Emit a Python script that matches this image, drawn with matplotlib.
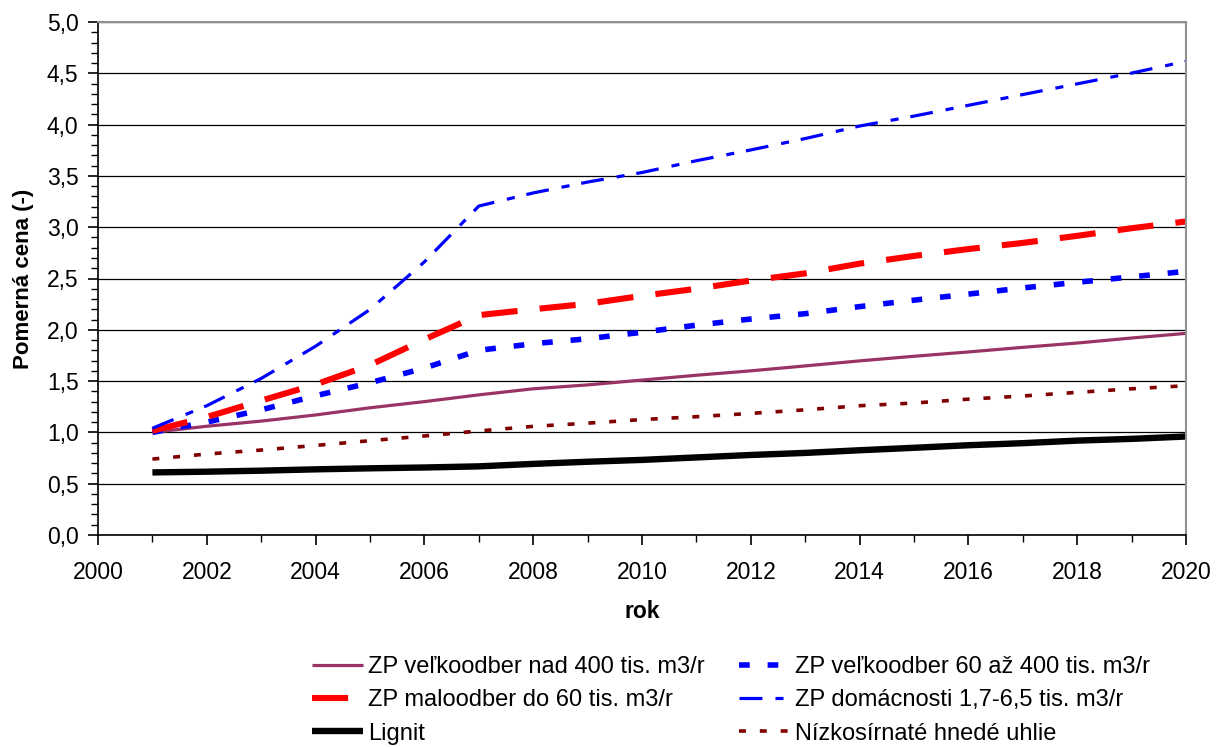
import matplotlib
matplotlib.use("Agg")
import matplotlib.pyplot as plt
from matplotlib.ticker import MultipleLocator, FuncFormatter

plt.rcParams['font.family'] = ['Liberation Sans', 'DejaVu Sans']
plt.rcParams['lines.scale_dashes'] = False

years = list(range(2001, 2021))
zp_velko_400 = [1.00, 1.06, 1.11, 1.17, 1.24, 1.30, 1.366, 1.425, 1.463, 1.51, 1.557, 1.60,
                1.648, 1.697, 1.742, 1.784, 1.829, 1.871, 1.92, 1.965]
zp_velko_60_400 = [1.00, 1.10, 1.22, 1.357, 1.484, 1.627, 1.80, 1.864, 1.913, 1.976, 2.045, 2.105,
                   2.157, 2.226, 2.289, 2.348, 2.408, 2.463, 2.516, 2.57]
zp_malo = [1.016, 1.15, 1.31, 1.467, 1.656, 1.906, 2.143, 2.20, 2.254, 2.331, 2.40, 2.48,
           2.55, 2.645, 2.72, 2.787, 2.847, 2.916, 2.99, 3.056]
zp_domacnosti = [1.04, 1.26, 1.526, 1.84, 2.198, 2.662, 3.206, 3.334, 3.44, 3.533, 3.648, 3.753,
                 3.864, 3.986, 4.083, 4.188, 4.293, 4.397, 4.502, 4.617]
lignit = [0.61, 0.617, 0.627, 0.64, 0.65, 0.658, 0.669, 0.693, 0.714, 0.732, 0.756, 0.78,
          0.80, 0.826, 0.85, 0.875, 0.895, 0.92, 0.937, 0.96]
nizkosirnate = [0.74, 0.789, 0.828, 0.873, 0.919, 0.965, 1.014, 1.059, 1.09, 1.125, 1.153, 1.185,
                1.22, 1.26, 1.286, 1.324, 1.355, 1.39, 1.425, 1.455]

labels = ["ZP veľkoodber nad 400 tis. m3/r", "ZP veľkoodber 60 až 400 tis. m3/r",
          "ZP maloodber do 60 tis. m3/r", "ZP domácnosti 1,7-6,5 tis. m3/r",
          "Lignit", "Nízkosírnaté hnedé uhlie"]

fig = plt.figure(figsize=(12.21, 7.47), dpi=100)
ax = fig.add_axes([98/1221, 1-535/747, (1186-98)/1221, (535-22)/747])

h1, = ax.plot(years, zp_velko_400, color='#993366', lw=2.3, solid_capstyle='butt')
h2, = ax.plot(years, zp_velko_60_400, color='#0000FF', lw=4.0, dashes=(7.7, 12.9), dash_capstyle='butt')
h3, = ax.plot(years, zp_malo, color='#FF0000', lw=4.4, dashes=(26, 16), dash_capstyle='butt')
h4, = ax.plot(years, zp_domacnosti, color='#0000FF', lw=2.3, dashes=(16.5, 9.4, 5.8, 8.6), dash_capstyle='butt')
h5, = ax.plot(years, lignit, color='#000000', lw=4.6, solid_capstyle='butt')
h6, = ax.plot(years, nizkosirnate, color='#800000', lw=2.6, dashes=(5, 10), dash_capstyle='butt')

ax.set_xlim(2000, 2020)
ax.set_ylim(0, 5)
ax.xaxis.set_major_locator(MultipleLocator(2))
ax.xaxis.set_minor_locator(MultipleLocator(1))
ax.yaxis.set_major_locator(MultipleLocator(0.5))
ax.yaxis.set_minor_locator(MultipleLocator(0.1))
ax.yaxis.set_major_formatter(FuncFormatter(lambda v, p: f"{v:.1f}".replace('.', ',')))
ax.tick_params(axis='both', which='major', direction='out', length=7, width=1.2, labelsize=16.5)
ax.tick_params(axis='x', which='major', pad=12)
ax.tick_params(axis='y', which='major', pad=7)
ax.tick_params(axis='both', which='minor', direction='out', length=5, width=1.0)
ax.grid(axis='y', which='major', color='#000000', lw=0.9)
ax.set_axisbelow(True)
for s in ['left', 'bottom']:
    ax.spines[s].set_color('#000000')
    ax.spines[s].set_linewidth(1.2)
for s in ['top', 'right']:
    ax.spines[s].set_color('#909090')
    ax.spines[s].set_linewidth(1.5)

ax.set_xlabel('rok', fontsize=16.5, fontweight='bold', labelpad=11)
ax.set_ylabel('Pomerná cena (-)', fontsize=16, fontweight='bold', labelpad=9)

handles = [h1, h3, h5, h2, h4, h6]
leg_labels = [labels[0], labels[2], labels[4], labels[1], labels[3], labels[5]]
fig.legend(handles, leg_labels, ncol=2, loc='upper left', bbox_to_anchor=(312/1221, 1-656/747),
           frameon=False, fontsize=17, borderpad=0, borderaxespad=0, handlelength=2.16,
           handletextpad=0.21, columnspacing=1.44, labelspacing=0.48)

fig.savefig('out.png', dpi=100)
